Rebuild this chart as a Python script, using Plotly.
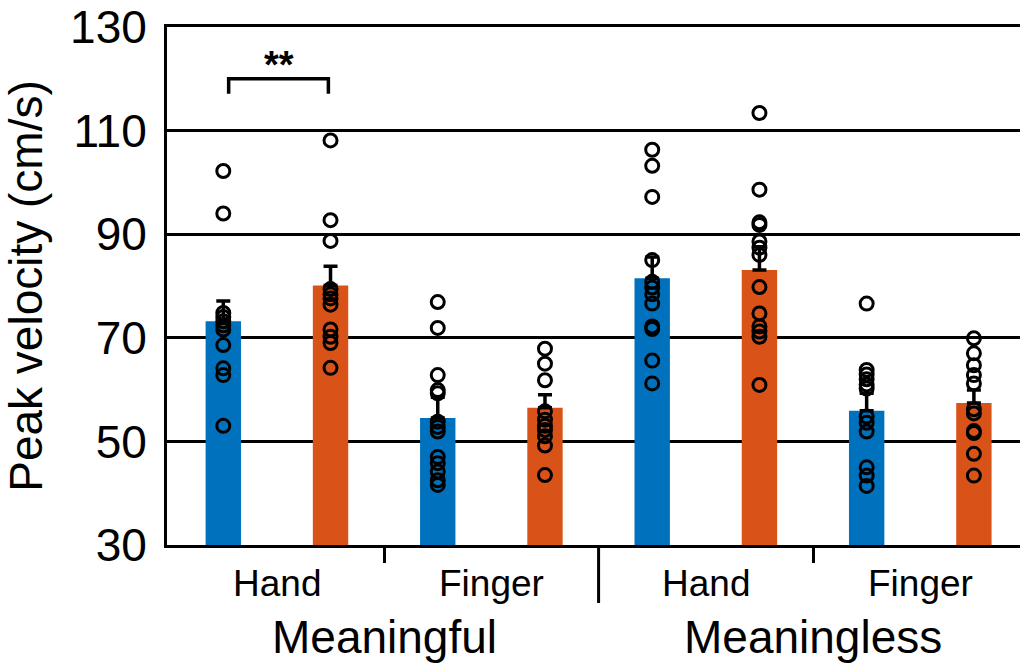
import plotly.graph_objects as go

# Category layout: two conditions, each with Hand and Finger, two groups per effector
conditions = ["Meaningful", "Meaningless"]
effectors = ["Hand", "Finger", "Hand", "Finger"]

# Bar positions on a numeric axis (blue group on odd slots, orange group on even slots)
x_blue = [1, 3, 5, 7]
x_orange = [2, 4, 6, 8]

# Group means and standard errors (cm/s)
mean_blue = [73.2, 54.5, 81.5, 55.9]
se_blue = [3.9, 4.0, 4.1, 3.4]
mean_orange = [80.1, 56.5, 83.1, 57.4]
se_orange = [3.7, 2.5, 4.5, 2.5]

# Individual participant values (cm/s)
pts_blue = [
    [102.2, 94.0, 74.8, 74.0, 73.2, 72.4, 71.6, 68.6, 64.1, 62.8, 53.0],
    [76.9, 71.9, 62.8, 59.9, 59.3, 53.8, 52.8, 51.9, 47.0, 45.8, 44.2, 42.5, 41.6],
    [106.3, 103.2, 97.2, 85.0, 80.8, 79.7, 78.4, 76.6, 72.2, 71.7, 65.6, 61.2],
    [76.6, 63.8, 62.9, 62.0, 61.0, 60.2, 54.8, 53.6, 51.9, 45.0, 43.4, 41.4],
]
pts_orange = [
    [108.1, 92.7, 88.7, 79.4, 78.4, 77.6, 76.4, 71.6, 70.2, 69.0, 64.2],
    [67.9, 65.0, 61.8, 55.8, 54.2, 53.0, 52.2, 51.0, 49.2, 43.5],
    [113.4, 98.6, 92.3, 91.8, 88.6, 87.4, 86.0, 79.8, 74.7, 72.2, 71.2, 70.2, 60.9],
    [69.9, 67.0, 64.7, 62.8, 61.2, 56.2, 55.4, 52.0, 51.6, 47.6, 43.4],
]

y_ticks = [30, 50, 70, 90, 110, 130]

BLUE = "#0072BD"
ORANGE = "#D95319"
FONT = "Liberation Sans, Arial, sans-serif"

fig = go.Figure()

for xs, means, ses, color, name in [
    (x_blue, mean_blue, se_blue, BLUE, "Group 1"),
    (x_orange, mean_orange, se_orange, ORANGE, "Group 2"),
]:
    fig.add_trace(go.Bar(
        x=xs, y=means, width=0.33, name=name,
        marker=dict(color=color, line=dict(width=0)),
        error_y=dict(type="data", symmetric=False, array=ses,
                     arrayminus=[0] * len(ses), color="black",
                     thickness=3.5, width=7),
    ))

# Individual data points stacked on each bar
for xs, groups in [(x_blue, pts_blue), (x_orange, pts_orange)]:
    px, py = [], []
    for xv, vals in zip(xs, groups):
        px += [xv] * len(vals)
        py += vals
    fig.add_trace(go.Scatter(
        x=px, y=py, mode="markers",
        marker=dict(symbol="circle-open", size=13, color="black",
                    line=dict(width=3, color="black")),
        showlegend=False,
    ))

plot_h = 664 - 27 - 119

# Divider between the two conditions
fig.add_shape(type="line", xref="x", yref="paper", x0=4.5, x1=4.5,
              y0=0, y1=-58 / plot_h, line=dict(color="black", width=3))

# Significance bracket
fig.add_shape(type="path", xref="x", yref="y",
              path="M 1.05,117.1 L 1.05,120.0 L 1.98,120.0 L 1.98,117.1",
              line=dict(color="black", width=3.5))
fig.add_annotation(x=1.515, y=122.6, xref="x", yref="y", text="<b>**</b>",
                   showarrow=False, font=dict(family=FONT, size=38, color="black"))

# Effector labels
for xv, lab in zip([1.5, 3.5, 5.5, 7.5], effectors):
    fig.add_annotation(x=xv, y=0, xref="x", yref="paper", text=lab,
                       showarrow=False, yanchor="middle", yshift=-38,
                       font=dict(family=FONT, size=37, color="black"))

# Condition labels
for xv, lab in zip([2.5, 6.5], conditions):
    fig.add_annotation(x=xv, y=0, xref="x", yref="paper", text=lab,
                       showarrow=False, yanchor="middle", yshift=-92,
                       font=dict(family=FONT, size=46, color="black"))

fig.update_layout(
    width=1020, height=664,
    margin=dict(l=167, r=0, t=27, b=119),
    paper_bgcolor="white", plot_bgcolor="white",
    showlegend=False,
    barmode="overlay",
    font=dict(family=FONT, color="black"),
    xaxis=dict(range=[0.475, 8.43], showline=True, linecolor="black",
               linewidth=3, mirror=True, showgrid=False, zeroline=False,
               tickvals=[2.5, 6.5], ticktext=["", ""], ticks="outside",
               ticklen=15, tickwidth=3, tickcolor="black"),
    yaxis=dict(range=[30, 130], tickvals=y_ticks, showgrid=True,
               gridcolor="black", gridwidth=3, showline=True,
               linecolor="black", linewidth=3, ticks="", zeroline=False,
               tickfont=dict(family=FONT, size=46, color="black"),
               ticklabelstandoff=8,
               title=dict(text="Peak velocity (cm/s)", standoff=14,
                          font=dict(family=FONT, size=46, color="black"))),
)

fig.write_html("out.html")
